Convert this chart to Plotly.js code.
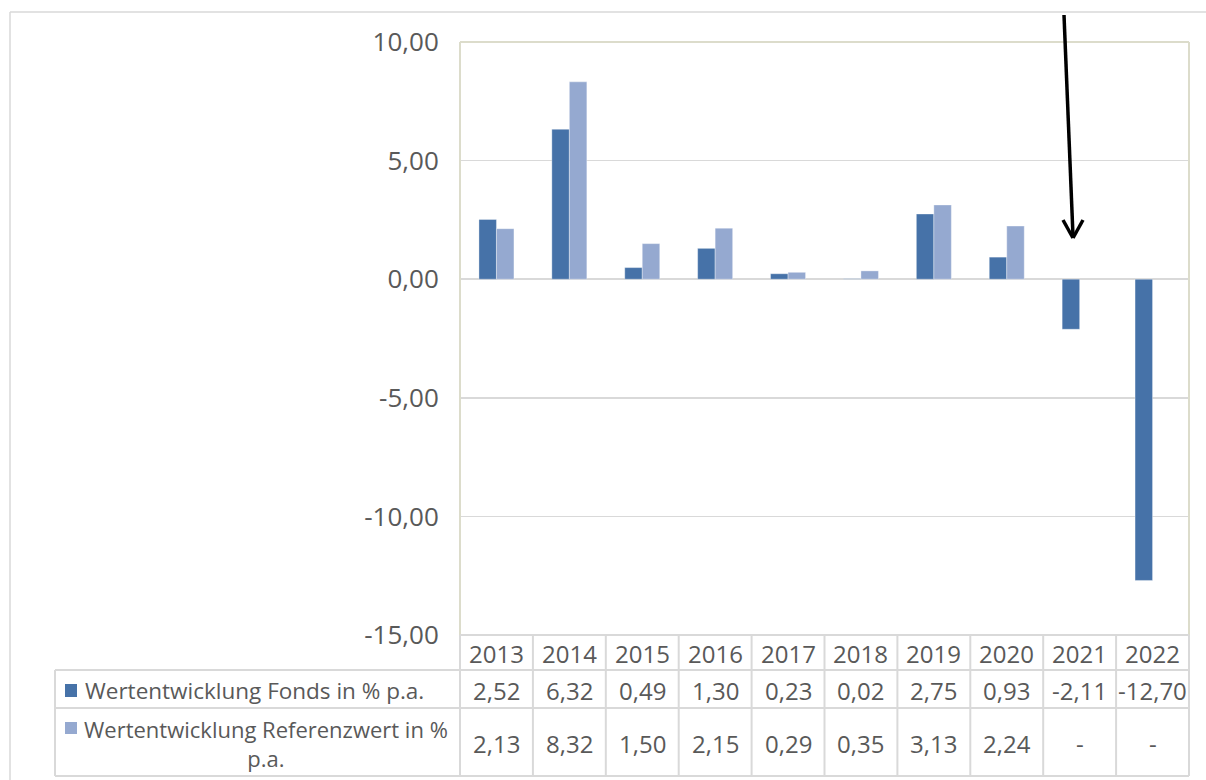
<!DOCTYPE html>
<html>
<head>
<meta charset="utf-8">
<script src="https://cdn.plot.ly/plotly-3.0.1.min.js"></script>
<style>html,body{margin:0;padding:0;background:#fff;}</style>
</head>
<body>
<div id="chart" style="width:1206px;height:780px;"></div>
<script>
const years = ['2013','2014','2015','2016','2017','2018','2019','2020','2021','2022'];
const fonds = [2.52, 6.32, 0.49, 1.30, 0.23, 0.02, 2.75, 0.93, -2.11, -12.70];
const referenz = [2.13, 8.32, 1.50, 2.15, 0.29, 0.35, 3.13, 2.24, null, null];
const seriesNames = ['Wertentwicklung Fonds in % p.a.', 'Wertentwicklung Referenzwert in %<br>p.a.'];
const yTicks = [10, 5, 0, -5, -10, -15];

const W = 1206, H = 780;
const L = 460, R = 1189, T = 42, B = 635;
const px = x => (x - L) / (R - L);
const py = y => (B - y) / (B - T);
const fmt = v => v === null ? '-' : v.toFixed(2).replace('.', ',');

const darkC = '#4672a8', lightC = '#95a9d0';
const grid = '#d9d9d9', beige = '#dcdccb', txt = '#595959';
const FONT = '"Open Sans", Lato, sans-serif';

const xIdx = years.map((_, i) => i);
const traces = [
  {type:'bar', x: xIdx, y: fonds, name: 'Fonds', marker:{color: darkC, line:{color:'rgba(255,255,255,0.35)', width:1}}},
  {type:'bar', x: xIdx, y: referenz, name: 'Referenz', marker:{color: lightC, line:{color:'rgba(255,255,255,0.35)', width:1}}}
];

const shapes = [];
const line = (x0,y0,x1,y1,color,w) => shapes.push({type:'line', xref:'paper', yref:'paper', x0:px(x0), y0:py(y0), x1:px(x1), y1:py(y1), line:{color:color, width:w}, layer:'above'});

// outer chart border
line(10, 12, 1206, 12, '#d9d9d9', 1.5);
line(10, 12, 10, 780, '#d9d9d9', 1.5);
// plot area border
line(L, T, R, T, beige, 2);
line(L, T, L, B, beige, 2);
line(R, T, R, B, beige, 2);
// table grid
const colW = (R - L) / years.length;
line(L, B, R, B, grid, 2);
line(55, 670, R, 670, grid, 2);
line(55, 708, R, 708, grid, 2);
line(55, 776, R, 776, grid, 2);
line(55, 670, 55, 776, grid, 2);
for (let i = 0; i <= years.length; i++) line(L + i*colW, B, L + i*colW, 776, grid, 2);
// legend keys
shapes.push({type:'rect', xref:'paper', yref:'paper', x0:px(65), x1:px(77), y0:py(697), y1:py(684), fillcolor:darkC, line:{width:0}});
shapes.push({type:'rect', xref:'paper', yref:'paper', x0:px(65), x1:px(77), y0:py(734), y1:py(722), fillcolor:lightC, line:{width:0}});
// arrow
line(1064, 15, 1073, 236, '#000', 3.5);
line(1063, 220, 1073, 238, '#000', 3.5);
line(1083, 220, 1073, 238, '#000', 3.5);

const annotations = [];
const tf = {family:FONT, size:24, color:txt};
years.forEach((yr, i) => {
  annotations.push({xref:'x', yref:'paper', x: i, y: py(653), text: yr, showarrow:false, font:tf, xanchor:'center', yanchor:'middle'});
  annotations.push({xref:'x', yref:'paper', x: i, y: py(690), text: fmt(fonds[i]), showarrow:false, font:tf, xanchor:'center', yanchor:'middle'});
  annotations.push({xref:'x', yref:'paper', x: i, y: py(743), text: fmt(referenz[i]), showarrow:false, font:tf, xanchor:'center', yanchor:'middle'});
});
annotations.push({xref:'paper', yref:'paper', x: px(83), y: py(690), text: seriesNames[0], showarrow:false, font:{family:FONT, size:22.5, color:txt}, xanchor:'left', yanchor:'middle'});
annotations.push({xref:'paper', yref:'paper', x: px(266), y: py(743), text: seriesNames[1], showarrow:false, align:'center', font:{family:FONT, size:22, color:txt}, xanchor:'center', yanchor:'middle'});

const layout = {
  width: W, height: H,
  margin: {l: L, r: W - R, t: T, b: H - B, pad: 0},
  paper_bgcolor: '#fff', plot_bgcolor: '#fff',
  showlegend: false,
  barmode: 'group', bargap: 0.52, bargroupgap: 0,
  font: {family: FONT, color: txt},
  xaxis: {type:'linear', range:[-0.5, years.length - 0.5], showticklabels:false, showgrid:false, zeroline:false, showline:false, ticks:''},
  yaxis: {range:[-15, 10], tickvals: yTicks, ticktext: yTicks.map(v => v.toFixed(2).replace('.', ',')),
          showgrid:true, gridcolor: grid, gridwidth: 1.5, zeroline:true, zerolinecolor: grid, zerolinewidth: 2,
          showline:false, ticks:'outside', ticklen: 15, tickcolor:'rgba(0,0,0,0)',
          tickfont:{family:FONT, size:26, color:txt}},
  shapes: shapes,
  annotations: annotations
};

Plotly.newPlot('chart', traces, layout, {displayModeBar:false, staticPlot:true});
</script>
</body>
</html>
